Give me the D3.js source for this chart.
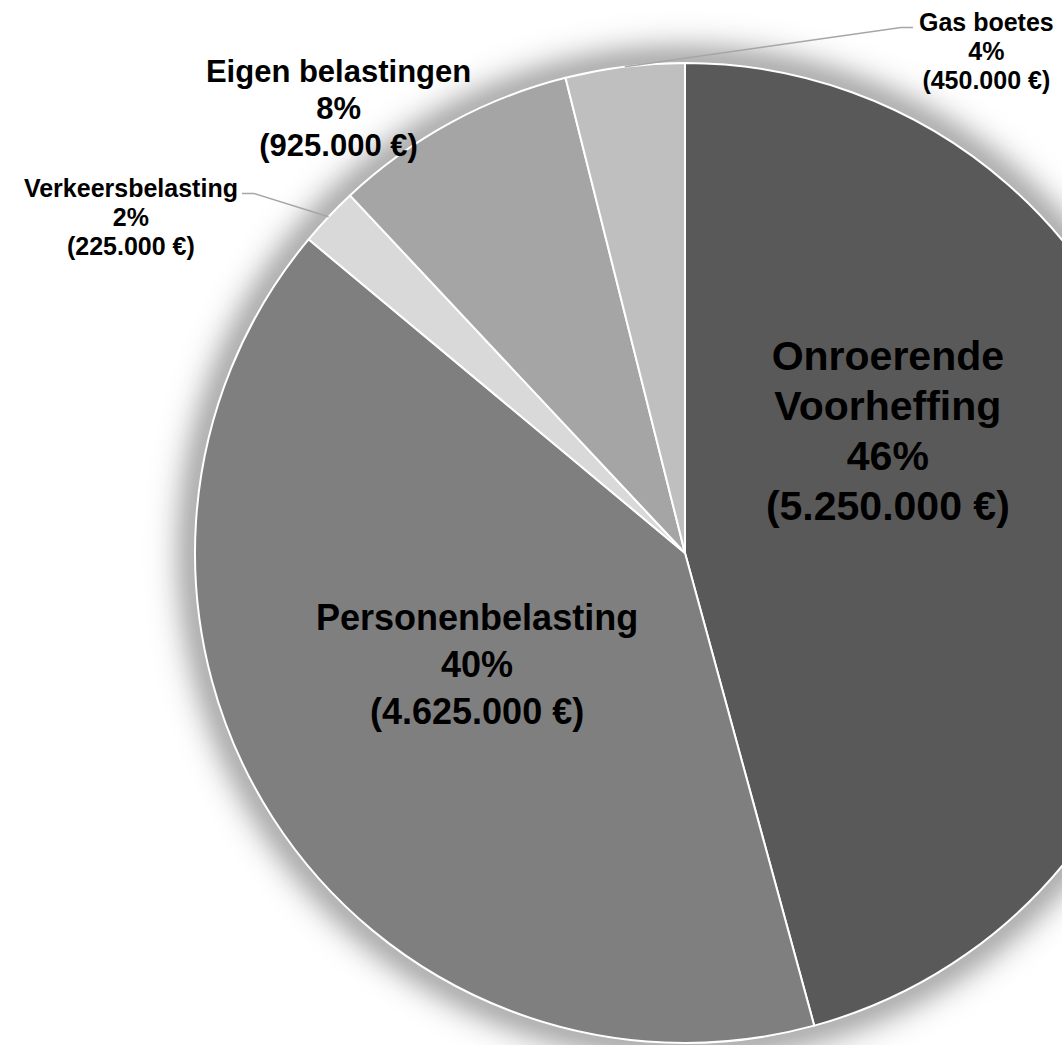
<!DOCTYPE html>
<html>
<head>
<meta charset="utf-8">
<script src="https://cdn.jsdelivr.net/npm/d3@7"></script>
<style>
  body { margin: 0; background: #fff; }
  svg { display: block; }
</style>
</head>
<body>
<div id="chart"></div>
<script>
// data
var categories = ["Onroerende Voorheffing", "Personenbelasting", "Verkeersbelasting", "Eigen belastingen", "Gas boetes"];
var values = [5250000, 4625000, 225000, 925000, 450000];
var colors = ["#595959", "#7f7f7f", "#d9d9d9", "#a5a5a5", "#bfbfbf"];

// label layout: angle (deg, clockwise from top), radius factor, font size, line height
var labelAngle = [58.8, 241.9, 301.2, 322.1, 31.0];
var labelRadius = [0.484, 0.481, 1.322, 1.151, 1.194];
var labelSize = [41, 36, 25, 31, 25];
var labelLine = [50, 47, 29, 37, 29];
var labelWrap = [true, false, false, false, false];
var labelLeader = [false, false, true, false, true];

var width = 1062, height = 1045;
var cx = 685, cy = 553, radius = 490;
var glow = 60;

var locale = d3.formatLocale({ decimal: ",", thousands: ".", grouping: [3], currency: ["", " €"] });
var fmt = locale.format("$,.0f");

var data = categories.map(function (c, i) {
    return { name: c, value: values[i], color: colors[i], i: i };
});
var total = d3.sum(values);

var svg = d3.select("#chart").append("svg")
    .attr("width", width)
    .attr("height", height);

// soft shadow around the pie, done with a radial gradient
var grad = svg.append("defs").append("radialGradient").attr("id", "glow")
    .attr("gradientUnits", "userSpaceOnUse")
    .attr("cx", 0).attr("cy", 0).attr("r", radius + glow);
grad.append("stop").attr("offset", 0).attr("stop-color", "#000").attr("stop-opacity", 0.3);
d3.range(0, 1.0001, 0.1).forEach(function (t) {
    var dist = t * glow;
    var op = 0.3 * Math.exp(-Math.pow(dist / 24, 2));
    grad.append("stop")
        .attr("offset", (radius + dist) / (radius + glow))
        .attr("stop-color", "#000")
        .attr("stop-opacity", t >= 1 ? 0 : op);
});

var pie = d3.pie().sort(null).value(function (d) { return d.value; });
var arc = d3.arc().innerRadius(0).outerRadius(radius);
var arcs = pie(data);

var g = svg.append("g").attr("transform", "translate(" + cx + "," + cy + ")");

g.append("circle")
    .attr("r", radius + glow)
    .attr("fill", "url(#glow)");

g.selectAll("path.slice")
    .data(arcs)
    .enter().append("path")
    .attr("class", "slice")
    .attr("d", arc)
    .attr("fill", function (d) { return d.data.color; })
    .attr("stroke", "#fff")
    .attr("stroke-width", 2)
    .attr("stroke-linejoin", "round");

function polar(deg, r) {
    var a = deg * Math.PI / 180;
    return [r * Math.sin(a), -r * Math.cos(a)];
}

var labels = g.selectAll("g.lbl")
    .data(arcs)
    .enter().append("g")
    .attr("class", "lbl");

labels.each(function (d) {
    var i = d.data.i;
    var pos = polar(labelAngle[i], radius * labelRadius[i]);
    var lines = labelWrap[i] ? d.data.name.split(" ") : [d.data.name];
    lines.push(Math.round(d.data.value / total * 100) + "%");
    lines.push("(" + fmt(d.data.value) + ")");
    var n = lines.length;
    var t = d3.select(this).append("text")
        .attr("text-anchor", "middle")
        .attr("font-family", "'Liberation Sans', Arial, sans-serif")
        .attr("font-weight", "bold")
        .attr("font-size", labelSize[i])
        .attr("fill", "#000");
    lines.forEach(function (ln, k) {
        t.append("tspan")
            .attr("x", pos[0])
            .attr("y", pos[1] + (k - (n - 1) / 2) * labelLine[i])
            .attr("dy", "0.35em")
            .text(ln);
    });

    // leader lines for the small outside labels
    if (labelLeader[i]) {
        var mid = (d.startAngle + d.endAngle) / 2 * 180 / Math.PI;
        var p0 = polar(mid, radius);
        var first = t.select("tspan").node().getBBox();
        var ly = pos[1] - (n - 1) / 2 * labelLine[i] + labelSize[i] * 0.2;
        var pts;
        if (p0[0] < pos[0]) {
            var left = first.x;
            pts = [p0, [left - 18, ly], [left - 6, ly]];
        } else {
            var right = first.x + first.width;
            pts = [p0, [right + 16, ly], [right + 4, ly]];
        }
        d3.select(this).insert("path", "text")
            .attr("d", d3.line()(pts))
            .attr("fill", "none")
            .attr("stroke", "#a6a6a6")
            .attr("stroke-width", 1.5);
    }
});
</script>
</body>
</html>
